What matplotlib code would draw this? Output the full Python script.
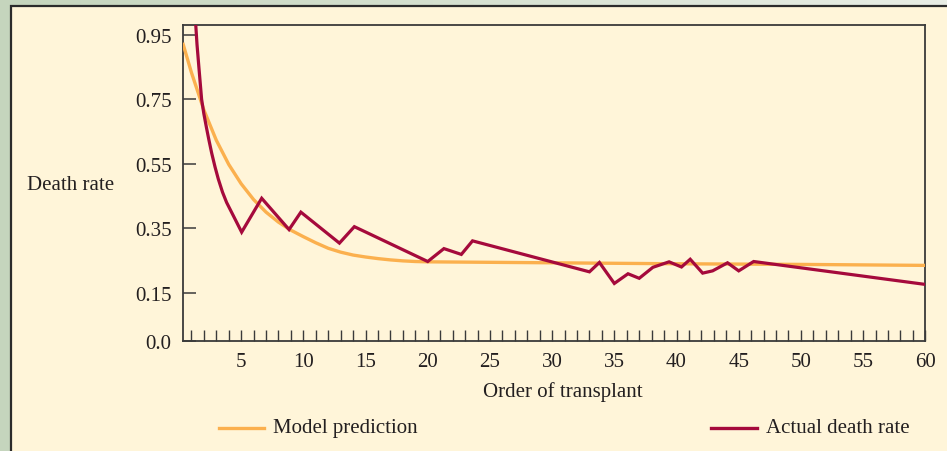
import matplotlib
matplotlib.use("Agg")
import matplotlib.pyplot as plt
import numpy as np
from matplotlib.patches import Rectangle
from matplotlib.lines import Line2D
from matplotlib.colors import LinearSegmentedColormap

# ---- data ----
actual_x = [1.3, 1.45, 1.6, 1.82, 2.0, 2.22, 2.4, 2.63, 2.9, 3.16, 3.5, 3.83, 4.37,
            5.04, 6.65, 8.85, 9.8, 12.9, 14.1, 20.0, 21.3, 22.7, 23.6, 33.0, 33.8,
            35.0, 36.1, 37.0, 38.1, 39.4, 40.4, 41.1, 42.1, 42.9, 44.1, 45.0, 46.2,
            60.0]
actual_y = [1.01, 0.92, 0.85, 0.75, 0.705, 0.660, 0.625, 0.583, 0.540, 0.503,
            0.462, 0.430, 0.389, 0.338, 0.443, 0.346, 0.400, 0.304, 0.355, 0.247,
            0.287, 0.269, 0.311, 0.215, 0.244, 0.179, 0.209, 0.195, 0.229, 0.246,
            0.230, 0.254, 0.211, 0.218, 0.243, 0.218, 0.247, 0.176]

model_x = [0.3, 1, 2, 3, 4, 5, 6, 7, 8, 9, 10, 11, 12, 13, 14, 15, 16, 17, 18,
           19, 20, 30, 40, 50, 60]
model_y = [0.925, 0.833, 0.717, 0.623, 0.548, 0.488, 0.439, 0.400, 0.369, 0.344,
           0.324, 0.305, 0.288, 0.276, 0.267, 0.261, 0.256, 0.252, 0.249, 0.247,
           0.246, 0.243, 0.240, 0.238, 0.235]

y_ticks = [0.0, 0.15, 0.35, 0.55, 0.75, 0.95]
y_ticklabels = ["0.0", "0.15", "0.35", "0.55", "0.75", "0.95"]
x_major = [5, 10, 15, 20, 25, 30, 35, 40, 45, 50, 55, 60]

RED = "#a50a3c"
ORANGE = "#fbb04e"
CREAM = "#fff5d9"
TEXT = "#231f20"
FS = 15

plt.rcParams["font.family"] = ["Liberation Serif", "DejaVu Serif"]

W, H = 947, 452
fig = plt.figure(figsize=(W / 100, H / 100), dpi=100)
fig.patch.set_facecolor("#c5d5bd")

# background gradient (top strip lighter toward the right)
bg = fig.add_axes([0, 0, 1, 1], zorder=-10)
bg.set_axis_off()
grad = np.linspace(0, 1, 256)[None, :]
cm = LinearSegmentedColormap.from_list("g", ["#c5d5bd", "#e8ede5"])
bg.imshow(grad, aspect="auto", cmap=cm, extent=[0, 1, 0, 1])
bg.set_xlim(0, 1)
bg.set_ylim(0, 1)
bg.add_patch(Rectangle((0, 0), 10.5 / W, 1, facecolor="#c5d5bd", edgecolor="none"))
bg.add_patch(Rectangle((10.5 / W, -0.05), 1.0, 1 - 6.5 / H + 0.05,
                       facecolor=CREAM, edgecolor="#2b2b2b", linewidth=1.6))

left, right = 182.7 / W, 925.3 / W
bottom, top = 1 - 342.2 / H, 1 - 25.7 / H
ax = fig.add_axes([left, bottom, right - left, top - bottom])
ax.set_facecolor(CREAM)

ax.plot(model_x, model_y, color=ORANGE, lw=2.4, solid_capstyle="butt", zorder=3)
ax.plot(actual_x, actual_y, color=RED, lw=2.3, solid_joinstyle="miter", zorder=4)

ax.set_xlim(0.3, 60)
ax.set_ylim(0, 0.981)

ax.set_yticks(y_ticks)
ax.set_yticklabels(y_ticklabels)
ax.set_xticks(x_major)
ax.set_xticks(np.arange(1, 61), minor=True)
ax.tick_params(axis="y", direction="in", length=9, width=1.1, color="#3a3a3a",
               labelsize=FS, labelcolor=TEXT, pad=8)
ax.tick_params(axis="x", which="both", direction="in", length=8, width=1.0,
               color="#3a3a3a", labelsize=FS, labelcolor=TEXT, pad=8)
for s in ax.spines.values():
    s.set_color("#3a3a3a")
    s.set_linewidth(1.3)

fig.text(27 / W, 1 - 186 / H, "Death rate", ha="left", va="center",
         fontsize=FS, color=TEXT)
fig.text(563 / W, 1 - 392 / H, "Order of transplant", ha="center", va="center",
         fontsize=FS, color=TEXT)

# legend
ly = 1 - 428.5 / H
fig.add_artist(Line2D([219 / W, 264 / W], [ly, ly], color=ORANGE, lw=2.4,
                      transform=fig.transFigure))
fig.text(273 / W, ly, "Model prediction", ha="left", va="center",
         fontsize=FS, color=TEXT)
fig.add_artist(Line2D([711 / W, 757 / W], [ly, ly], color=RED, lw=2.4,
                      transform=fig.transFigure))
fig.text(766 / W, ly, "Actual death rate", ha="left", va="center",
         fontsize=FS, color=TEXT)

fig.savefig("out.png", dpi=100, facecolor=fig.get_facecolor())
